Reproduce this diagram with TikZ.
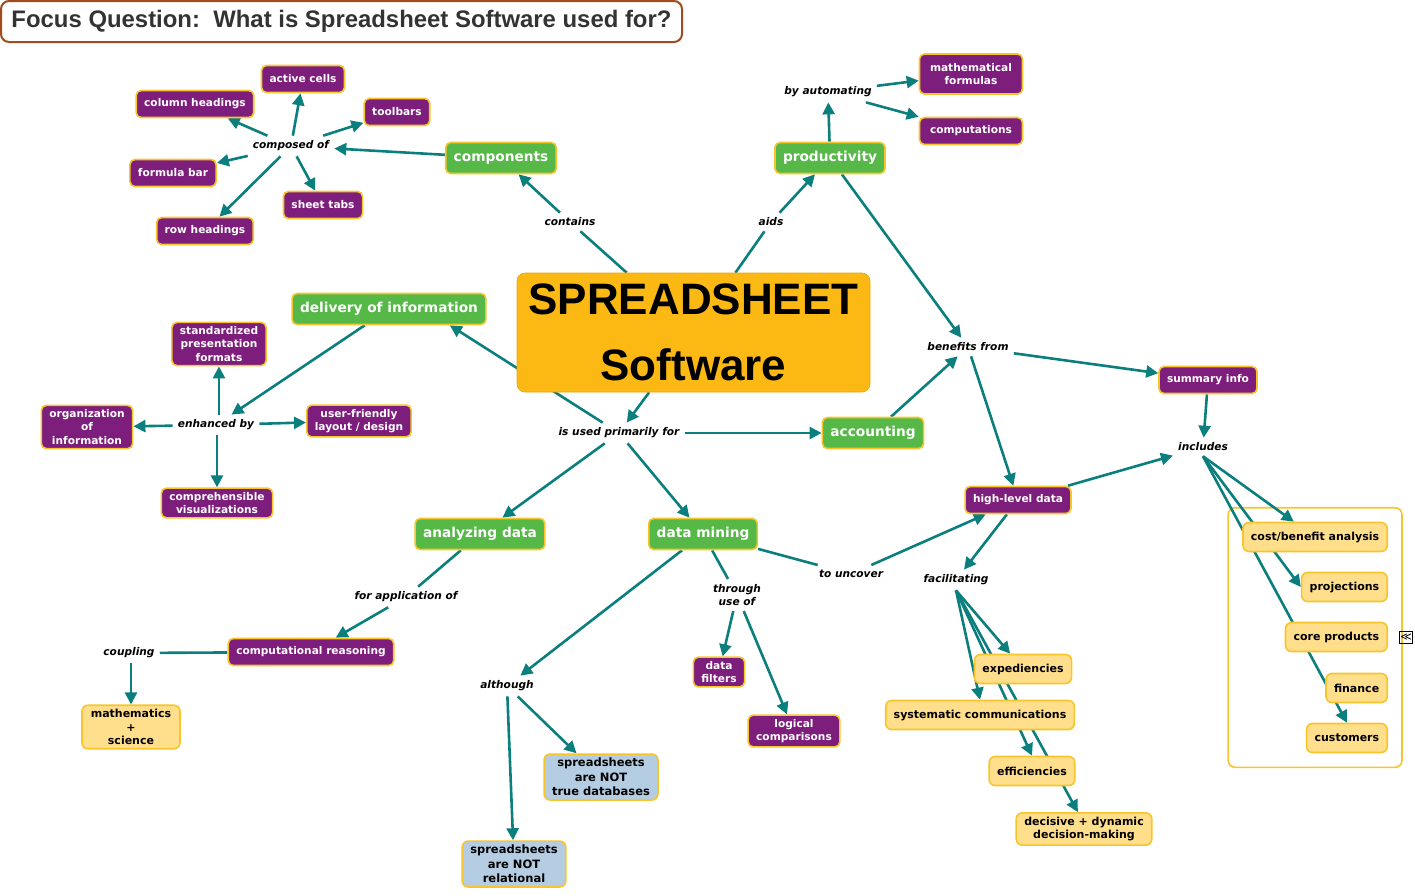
\documentclass[tikz,border=0pt]{standalone}
\usepackage{fontspec}
\setmainfont{DejaVu Sans}
\newfontfamily\arialfont{Liberation Sans}
\usetikzlibrary{arrows.meta, positioning, fit, backgrounds}
\definecolor{cpurple}{HTML}{7E1E7C}
\definecolor{cgreen}{HTML}{56B947}
\definecolor{cgold}{HTML}{F7C52B}
\definecolor{cyellow}{HTML}{FFDF8C}
\definecolor{cblue}{HTML}{B4CDE3}
\definecolor{corange}{HTML}{FDB913}
\definecolor{cteal}{HTML}{0B7F7E}
\definecolor{cbrown}{HTML}{A34A1F}
\definecolor{ctitle}{HTML}{333333}
\tikzset{
  pnode/.style={draw=cgold, line width=1.6pt, fill=cpurple, text=white, rounded corners=5pt,
                font=\fontsize{10.6}{13.5}\selectfont\bfseries, align=center,
                inner xsep=8pt, inner ysep=4pt, minimum height=27pt},
  gnode/.style={draw=cgold, line width=1.6pt, fill=cgreen, text=white, rounded corners=5pt,
                font=\fontsize{13.7}{16}\selectfont\bfseries, align=center,
                inner xsep=8pt, inner ysep=4pt, minimum height=31pt},
  ynode/.style={draw=cgold, line width=1.6pt, fill=cyellow, text=black, rounded corners=6pt,
                font=\fontsize{11}{13.5}\selectfont\bfseries, align=center,
                inner xsep=8pt, inner ysep=4pt, minimum height=29pt},
  bnode/.style={draw=cgold, line width=1.6pt, fill=cblue, text=black, rounded corners=6pt,
                font=\fontsize{11.5}{14.5}\selectfont\bfseries, align=center,
                inner xsep=8pt, inner ysep=4pt},
  lbl/.style={font=\fontsize{10.6}{13.5}\selectfont\bfseries\itshape, align=center, inner sep=5pt},
  mainbox/.style={fill=corange, draw=corange!90!black, line width=0.6pt, rounded corners=8pt,
                  font=\arialfont\bfseries\fontsize{44}{66}\selectfont, align=center,
                  minimum width=353pt, minimum height=119pt},
  titlebox/.style={draw=cbrown, line width=2pt, fill=white, rounded corners=8pt, text=ctitle,
                   font=\arialfont\bfseries\fontsize{23.9}{26}\selectfont,
                   minimum width=681pt, minimum height=41pt},
  grpbox/.style={draw=cgold, line width=1.6pt, rounded corners=7pt, inner xsep=14pt, inner ysep=14pt},
  arr/.style={-{Triangle[length=12pt,width=12pt]}, line width=2.6pt, cteal},
  ln/.style={line width=2.6pt, cteal},
}
\begin{document}
\begin{tikzpicture}[x=1pt, y=-1pt]
  \useasboundingbox (0,0) rectangle (1415,895);

  \node[titlebox] (focus) at (341.5,21.5) {Focus Question:\ \ What is Spreadsheet Software used for?};

  \node[mainbox] (sheet) at (693.5,332.5) {SPREADSHEET\\Software};

  % components
  \node[gnode] (comp) at (501,158) {components};
  \node[lbl] (contains) at (570,222) {contains};
  \node[lbl] (composed) at (291,146) {composed of};
  \node[pnode] (active) at (303,79) {active cells};
  \node[pnode] (colhead) at (195,104) {column headings};
  \node[pnode] (toolbar) at (397,112) {toolbars};
  \node[pnode] (formbar) at (173,173) {formula bar};
  \node[pnode] (tabs) at (323,205) {sheet tabs};
  \node[pnode] (rowhead) at (205,231) {row headings};

  % productivity
  \node[gnode] (prod) at (830,158) {productivity};
  \node[lbl] (aids) at (771,222) {aids};
  \node[lbl] (byauto) at (828,92) {by automating};
  \node[pnode, minimum width=103pt, minimum height=40pt] (mathf) at (971,74) {mathematical\\formulas};
  \node[pnode, minimum width=103pt] (compu) at (971,131) {computations};

  % delivery of information
  \node[gnode] (deliv) at (389,309) {delivery of information};
  \node[lbl] (enhanced) at (216,425) {enhanced by};
  \node[pnode] (stdfmt) at (219,344) {standardized\\presentation\\formats};
  \node[pnode] (orginfo) at (87,427) {organization\\of\\information};
  \node[pnode] (userfr) at (359,421) {user-friendly\\layout / design};
  \node[pnode] (visual) at (217,503) {comprehensible\\visualizations};

  % uses
  \node[lbl] (usedfor) at (619,433) {is used primarily for};
  \node[gnode] (acct) at (873,433) {accounting};
  \node[lbl] (benefits) at (968,347) {benefits from};
  \node[pnode] (summary) at (1208,380) {summary info};
  \node[lbl] (includes) at (1203,447) {includes};
  \node[pnode] (hidata) at (1018,500) {high-level data};
  \node[lbl] (facil) at (956,580) {facilitating};
  \node[ynode] (exped) at (1023,669) {expediencies};
  \node[ynode] (syscom) at (980,715) {systematic communications};
  \node[ynode] (effic) at (1032,771) {efficiencies};
  \node[ynode] (decide) at (1084,829) {decisive + dynamic\\decision-making};

  \node[ynode, anchor=east] (cost) at (1388,537) {cost/benefit analysis};
  \node[ynode, anchor=east] (proj) at (1388,587) {projections};
  \node[ynode, anchor=east] (core) at (1388,637) {core products};
  \node[ynode, anchor=east] (fin) at (1388,688) {finance};
  \node[ynode, anchor=east] (cust) at (1388,738) {customers};
  \node[draw, line width=0.7pt, inner sep=0.5pt, minimum size=12pt, font=\fontsize{11}{11}\selectfont] (more) at (1406,637) {≪};

  % analyzing data
  \node[gnode] (analyz) at (480,534) {analyzing data};
  \node[lbl] (forappl) at (406,597) {for application of};
  \node[pnode] (reason) at (311,652) {computational reasoning};
  \node[lbl] (coupling) at (129,653) {coupling};
  \node[ynode, minimum width=98pt] (mathsci) at (131,727) {mathematics\\+\\science};

  % data mining
  \node[gnode] (mining) at (703,534) {data mining};
  \node[lbl] (uncover) at (851,574) {to uncover};
  \node[lbl] (through) at (737,595) {through\\use of};
  \node[pnode] (filters) at (719,672) {data\\filters};
  \node[pnode] (logic) at (794,731) {logical\\comparisons};
  \node[lbl] (although) at (507,686) {although};
  \node[bnode] (notdb) at (601,777) {spreadsheets\\are NOT\\true databases};
  \node[bnode] (notrel) at (514,864) {spreadsheets\\are NOT\\relational};

  \begin{scope}[on background layer]
    \node[grpbox, fit=(cost)(proj)(core)(fin)(cust)] (grp) {};

    \draw[ln] (sheet) -- (contains);
    \draw[arr] (contains) -- (comp);
    \draw[arr] (comp) -- (composed);
    \foreach \n in {active, colhead, toolbar, formbar, tabs, rowhead}
      \draw[arr] (composed) -- (\n);

    \draw[ln] (sheet) -- (aids);
    \draw[arr] (aids) -- (prod);
    \draw[arr] (prod) -- (byauto);
    \draw[arr] (byauto) -- (mathf);
    \draw[arr] (byauto) -- (compu);
    \draw[arr] (prod) -- (benefits);

    \draw[arr] (sheet) -- (usedfor);
    \draw[arr] (usedfor) -- (deliv.-15);
    \draw[arr] (deliv) -- (enhanced);
    \draw[arr] (enhanced.north -| stdfmt) -- (stdfmt);
    \draw[arr] (enhanced) -- (orginfo);
    \draw[arr] (enhanced) -- (userfr);
    \draw[arr] (enhanced.south -| visual) -- (visual);

    \draw[arr] (usedfor) -- (acct);
    \draw[arr] (acct) -- (benefits);
    \draw[arr] (benefits) -- (summary);
    \draw[arr] (benefits) -- (hidata);
    \draw[arr] (summary) -- (includes);
    \draw[arr] (hidata) -- (includes);
    \draw[arr] (includes.south) -- (cost);
    \draw[arr] (includes.south) -- (proj.west);
    \draw[arr] (includes.south) -- (cust.north);
    \draw[arr] (hidata) -- (facil);
    \draw[arr] (facil.south) -- (exped.130);
    \draw[arr] (facil.south) -- (syscom.north);
    \draw[arr] (facil.south) -- (effic.north);
    \draw[arr] (facil.south) -- (decide.110);

    \draw[arr] (usedfor) -- (analyz);
    \draw[ln] (analyz) -- (forappl);
    \draw[arr] (forappl) -- (reason);
    \draw[ln] (reason) -- (coupling);
    \draw[arr] (coupling.south -| mathsci) -- (mathsci);

    \draw[arr] (usedfor) -- (mining);
    \draw[ln] (mining) -- (uncover);
    \draw[arr] (uncover) -- (hidata);
    \draw[ln] (mining) -- (through);
    \draw[arr] (through) -- (filters);
    \draw[arr] (through) -- (logic);
    \draw[arr] (mining) -- (although);
    \draw[arr] (although) -- (notrel);
    \draw[arr] (although) -- (notdb);
  \end{scope}
\end{tikzpicture}
\end{document}
